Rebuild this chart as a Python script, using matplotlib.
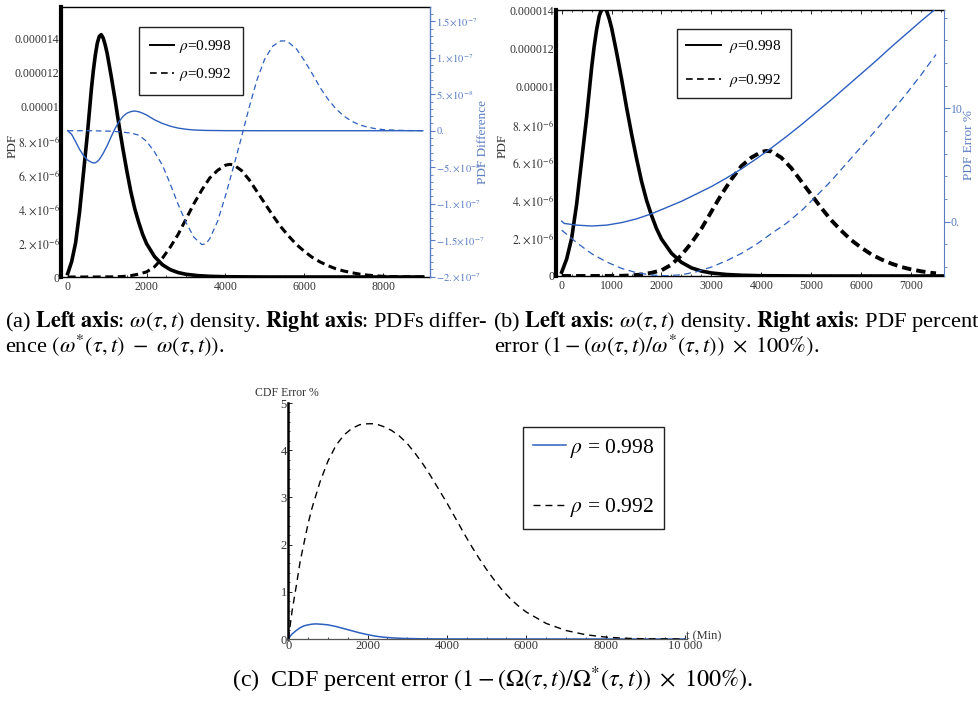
import numpy as np
import matplotlib
matplotlib.use("Agg")
import matplotlib.pyplot as plt
from matplotlib.ticker import FixedLocator, MultipleLocator

plt.rcParams['font.family'] = ['Liberation Serif', 'DejaVu Serif']
plt.rcParams['mathtext.fontset'] = 'stix'

# ---------------- data ----------------
# omega(tau,t) density, rho = 0.998 (units 1e-6)
t_pdf998 = [0, 100, 200, 300, 400, 500, 600, 650, 700, 750, 800, 850, 900, 950, 1000, 1100,
            1200, 1300, 1400, 1500, 1600, 1700, 1800, 1900, 2000, 2200, 2400, 2600, 2800,
            3000, 3300, 3600, 4000, 5000, 6000, 7000, 7500, 8000, 9000]
pdf998_e6 = [0.2, 0.9, 2.0, 3.8, 6.1, 8.4, 11.0, 12.1, 13.0, 13.7, 14.1, 14.2, 14.0, 13.6,
             13.1, 11.8, 10.4, 8.9, 7.5, 6.2, 5.0, 4.0, 3.2, 2.5, 1.95, 1.2, 0.72, 0.43,
             0.26, 0.16, 0.08, 0.04, 0.015, 0.0, 0.0, 0.0, 0.0, 0.0, 0.0]
# omega(tau,t) density, rho = 0.992 (units 1e-6)
t_pdf992 = [0, 400, 800, 1200, 1400, 1600, 1800, 2000, 2200, 2400, 2600, 2800, 3000, 3200,
            3400, 3600, 3800, 4000, 4100, 4200, 4400, 4600, 4800, 5000, 5200, 5400, 5600,
            5800, 6000, 6200, 6400, 6600, 6800, 7000, 7200, 7400, 7500, 7600, 7800, 8000,
            8500, 9000]
pdf992_e6 = [0.0, 0.0, 0.002, 0.01, 0.03, 0.08, 0.17, 0.3, 0.6, 1.1, 1.75, 2.5, 3.4, 4.3,
             5.1, 5.8, 6.25, 6.55, 6.6, 6.58, 6.25, 5.7, 5.0, 4.3, 3.6, 2.95, 2.4,
             1.9, 1.5, 1.15, 0.88, 0.66, 0.48, 0.35, 0.25, 0.17, 0.14, 0.11, 0.07, 0.04,
             0.01, 0.0]
# PDF difference, rho = 0.998 (units 1e-8)
t_diff998 = [0, 100, 200, 300, 400, 500, 600, 650, 700, 750, 800, 900, 1000, 1100, 1200, 1300,
             1400, 1500, 1600, 1700, 1800, 1900, 2000, 2200, 2400, 2600, 2800, 3000, 3200,
             3500, 4000, 5000, 6000, 7000, 8000, 9000]
diff998_e8 = [0.0, -0.5, -1.5, -2.55, -3.4, -4.0, -4.32, -4.42, -4.38, -4.22, -3.95, -3.1,
              -2.05, -0.85, 0.3, 1.25, 1.95, 2.4, 2.62, 2.7, 2.6, 2.4, 2.15, 1.5, 1.0, 0.62,
              0.36, 0.2, 0.1, 0.04, 0.01, 0.0, 0.0, 0.0, 0.0, 0.0]
# PDF difference, rho = 0.992 (units 1e-8)
t_diff992 = [0, 500, 1000, 1200, 1400, 1600, 1800, 2000, 2200, 2400, 2600, 2800, 3000, 3200,
             3400, 3500, 3600, 3800, 4000, 4200, 4400, 4600, 4800, 5000, 5200, 5400, 5500,
             5600, 5800, 6000, 6200, 6400, 6600, 6800, 7000, 7200, 7400, 7600, 7800, 8000,
             8500, 9000]
diff992_e8 = [0.0, 0.0, -0.05, -0.1, -0.2, -0.33, -0.6, -1.45, -2.9, -4.7, -7.3, -10.1, -12.6,
              -14.6, -15.6, -15.5, -14.8, -12.4, -8.9, -5.0, -1.0, 3.2, 7.0, 9.9, 11.6, 12.3,
              12.3, 12.1, 11.2, 9.6, 7.8, 5.9, 4.3, 3.0, 2.0, 1.3, 0.8, 0.5, 0.28, 0.15,
              0.04, 0.0]
# PDF percent error, rho = 0.998
t_err998 = [0, 50, 300, 600, 900, 1200, 1500, 1800, 2100, 2400, 2700, 3000, 3300, 3600, 3900,
            4200, 4500, 4800, 5100, 5400, 5700, 6000, 6300, 6600, 6900, 7200, 7500]
err998 = [0.05, -0.15, -0.3, -0.38, -0.3, -0.08, 0.25, 0.7, 1.25, 1.8, 2.45, 3.1, 3.85, 4.65,
          5.55, 6.5, 7.5, 8.55, 9.65, 10.75, 11.9, 13.05, 14.2, 15.4, 16.55, 17.7, 18.8]
# PDF percent error, rho = 0.992
t_err992 = [0, 300, 600, 900, 1200, 1500, 1800, 2100, 2400, 2700, 3000, 3300, 3600, 3900,
            4200, 4500, 4800, 5100, 5400, 5700, 6000, 6300, 6600, 6900, 7200, 7500]
err992 = [-0.74, -1.85, -2.82, -3.55, -4.12, -4.5, -4.7, -4.77, -4.68, -4.42, -4.0, -3.45,
          -2.8, -2.0, -1.05, -0.15, 0.95, 2.25, 3.6, 5.1, 6.6, 8.1, 9.65, 11.25, 12.95, 14.75]
# CDF percent error
t_cdf998 = [0, 50, 100, 200, 300, 400, 500, 600, 700, 800, 1000, 1200, 1400, 1600, 1800, 2000,
            2200, 2400, 2600, 2800, 3000, 3500, 4000, 6000, 10000]
cdf998 = [0.0, 0.06, 0.11, 0.18, 0.24, 0.28, 0.30, 0.315, 0.32, 0.315, 0.3, 0.265, 0.22, 0.175,
          0.13, 0.092, 0.06, 0.038, 0.025, 0.016, 0.01, 0.003, 0.001, 0.0, 0.0]
t_cdf992 = [0, 100, 200, 300, 400, 500, 600, 800, 1000, 1200, 1400, 1600, 1800, 2000, 2200,
            2400, 2600, 2800, 3000, 3200, 3400, 3600, 3800, 4000, 4200, 4400, 4600, 4800,
            5000, 5200, 5400, 5600, 5800, 6000, 6500, 7000, 7500, 8000, 8500, 9000, 10000]
cdf992 = [0.0, 0.62, 1.12, 1.65, 2.05, 2.45, 2.78, 3.33, 3.77, 4.1, 4.32, 4.46, 4.54, 4.56,
          4.56, 4.5, 4.42, 4.3, 4.14, 3.93, 3.7, 3.44, 3.16, 2.88, 2.58, 2.28, 1.99, 1.72,
          1.47, 1.24, 1.03, 0.85, 0.7, 0.57, 0.33, 0.18, 0.09, 0.04, 0.015, 0.005, 0.0]

labels_rho = ["0.998", "0.992"]
pdf_ticks = [0, 2e-6, 4e-6, 6e-6, 8e-6, 1e-5, 1.2e-5, 1.4e-5]
pdf_ticklabels = ["0", r"$2.\!\times\!10^{-6}$", r"$4.\!\times\!10^{-6}$", r"$6.\!\times\!10^{-6}$",
                  r"$8.\!\times\!10^{-6}$", "0.00001", "0.000012", "0.000014"]
diff_ticks = [-2e-7, -1.5e-7, -1e-7, -5e-8, 0, 5e-8, 1e-7, 1.5e-7]
diff_ticklabels = [r"$-2.\!\times\!10^{-7}$", r"$-1.5\!\times\!10^{-7}$", r"$-1.\!\times\!10^{-7}$",
                   r"$-5.\!\times\!10^{-8}$", "0.", r"$5.\!\times\!10^{-8}$",
                   r"$1.\!\times\!10^{-7}$", r"$1.5\!\times\!10^{-7}$"]

# ---------------- figure ----------------
W, H = 979, 707
fig = plt.figure(figsize=(W / 100, H / 100), dpi=100)
BLUE = '#2d5fbf'
AXBLUE = '#5a7cc2'
TXT = '#333333'
TS = 8.5


def axes_px(x0, x1, y0, y1):
    return fig.add_axes([x0 / W, 1 - y1 / H, (x1 - x0) / W, (y1 - y0) / H])


def style_left(ax):
    ax.spines['left'].set_linewidth(3.0)
    ax.spines['left'].set_color('k')
    for s in ['top', 'bottom']:
        ax.spines[s].set_linewidth(1.0)
        ax.spines[s].set_color('k')
    ax.spines['right'].set_visible(False)
    ax.tick_params(axis='y', which='both', length=0, pad=1, labelsize=TS, labelcolor=TXT)
    ax.tick_params(axis='x', which='major', direction='in', length=3, pad=3,
                   labelsize=TS, labelcolor=TXT, width=0.6)
    ax.tick_params(axis='x', which='minor', direction='in', length=1.5, width=0.5)


def legend_handles():
    return [plt.Line2D([], [], color='k', lw=1.4),
            plt.Line2D([], [], color='k', lw=1.2, ls=(0, (4, 2.6)))]


# ---- panel (a) ----
axa = axes_px(61, 430, 7, 277)
axa.plot(t_pdf998, np.array(pdf998_e6) * 1e-6, color='k', lw=2.6, zorder=3)
axa.plot(t_pdf992, np.array(pdf992_e6) * 1e-6, color='k', lw=2.2, ls=(0, (2.6, 1.5)), zorder=3)
axa.set_xlim(-170, 9184)
axa.set_ylim(0, 1.582e-5)
axa.yaxis.set_major_locator(FixedLocator(pdf_ticks))
axa.set_yticklabels(pdf_ticklabels)
axa.xaxis.set_major_locator(MultipleLocator(2000))
axa.xaxis.set_minor_locator(MultipleLocator(500))
style_left(axa)
axa.tick_params(axis='x', top=False)

axa2 = axa.twinx()
axa2.plot(t_diff998, np.array(diff998_e8) * 1e-8, color=BLUE, lw=1.0)
axa2.plot(t_diff992, np.array(diff992_e8) * 1e-8, color=BLUE, lw=0.9, ls=(0, (4.5, 3.0)))
axa2.set_ylim(-2.004e-7, 1.695e-7)
axa2.yaxis.set_major_locator(FixedLocator(diff_ticks))
axa2.yaxis.set_minor_locator(MultipleLocator(1e-8))
axa2.set_yticklabels(diff_ticklabels)
for s in ['left', 'top', 'bottom']:
    axa2.spines[s].set_visible(False)
axa2.spines['right'].set_color(AXBLUE)
axa2.spines['right'].set_linewidth(1.0)
axa2.tick_params(axis='y', which='major', direction='out', length=3.5, width=0.8,
                 color=AXBLUE, labelcolor=AXBLUE, labelsize=7.6, pad=1)
axa2.tick_params(axis='y', which='minor', direction='out', length=1.8, width=0.6, color=AXBLUE)
leg = axa2.legend(legend_handles(),
                  [r"$\rho$=" + labels_rho[0], r"$\rho$=" + labels_rho[1]],
                  loc='upper left', bbox_to_anchor=(0.211, 0.926), borderaxespad=0,
                  fontsize=11, handlelength=1.55, handletextpad=0.35, labelspacing=0.7,
                  borderpad=0.75, fancybox=False, framealpha=1, edgecolor='#222222')
leg.get_frame().set_linewidth(1.0)
fig.text(13 / W, 1 - 146 / H, "PDF", rotation=90, ha='center', va='center', fontsize=9.5,
         color=TXT)
fig.text(483 / W, 1 - 142 / H, "PDF Difference", rotation=90, ha='center', va='center',
         fontsize=9.5, color=AXBLUE)

# ---- panel (b) ----
axb = axes_px(555.7, 944, 10, 276)
axb.plot(t_pdf998, np.array(pdf998_e6) * 1e-6, color='k', lw=2.6, zorder=3)
m = np.array(t_pdf992) <= 7500
axb.plot(np.array(t_pdf992)[m], (np.array(pdf992_e6) * 1e-6)[m], color='k', lw=2.8,
         ls=(0, (2.4, 1.3)), zorder=3)
axb.set_xlim(-120, 7661)
axb.set_ylim(0, 1.404e-5)
axb.yaxis.set_major_locator(FixedLocator(pdf_ticks))
axb.set_yticklabels(pdf_ticklabels)
axb.xaxis.set_major_locator(MultipleLocator(1000))
axb.xaxis.set_minor_locator(MultipleLocator(200))
style_left(axb)
axb.tick_params(axis='x', which='both', top=True)

axb2 = axb.twinx()
axb2.plot(t_err998, err998, color=BLUE, lw=1.0)
axb2.plot(t_err992, err992, color=BLUE, lw=0.9, ls=(0, (5.5, 3.5)))
axb2.set_ylim(-4.79, 18.68)
axb2.yaxis.set_major_locator(FixedLocator([0, 10]))
axb2.yaxis.set_minor_locator(MultipleLocator(2))
axb2.set_yticklabels(["0.", "10."])
for s in ['left', 'top', 'bottom']:
    axb2.spines[s].set_visible(False)
axb2.spines['right'].set_color(AXBLUE)
axb2.tick_params(axis='y', which='major', direction='out', length=4, width=0.8,
                 color=AXBLUE, labelcolor=AXBLUE, labelsize=TS, pad=1)
axb2.tick_params(axis='y', which='minor', direction='out', length=2, width=0.6, color=AXBLUE)
leg = axb2.legend(legend_handles(),
                  [r"$\rho$=" + labels_rho[0], r"$\rho$=" + labels_rho[1]],
                  loc='upper left', bbox_to_anchor=(0.312, 0.929), borderaxespad=0,
                  fontsize=11, handlelength=2.3, handletextpad=0.5, labelspacing=1.1,
                  borderpad=0.6, fancybox=False, framealpha=1, edgecolor='#222222')
leg.get_frame().set_linewidth(1.0)
fig.text(503 / W, 1 - 146 / H, "PDF", rotation=90, ha='center', va='center', fontsize=9.5,
         color=TXT)
fig.text(969 / W, 1 - 145 / H, "PDF Error %", rotation=90, ha='center', va='center',
         fontsize=9.5, color=AXBLUE)

# ---- panel (c) ----
axc = axes_px(288.3, 687, 403, 639)
axc.plot(t_cdf998, cdf998, color=BLUE, lw=1.1, label=r"$\rho$ = " + labels_rho[0])
axc.plot(t_cdf992, cdf992, color='k', lw=1.0, ls=(0, (5, 3.6)), label=r"$\rho$ = " + labels_rho[1])
axc.set_xlim(0, 10050)
axc.set_ylim(0, 5.0)
for s in ['top', 'right']:
    axc.spines[s].set_visible(False)
axc.spines['left'].set_linewidth(1.8)
axc.spines['left'].set_color('k')
axc.spines['bottom'].set_linewidth(0.9)
axc.spines['bottom'].set_color('#555555')
axc.xaxis.set_major_locator(FixedLocator([0, 2000, 4000, 6000, 8000, 10000]))
axc.set_xticklabels(["0", "2000", "4000", "6000", "8000", "10 000"])
axc.xaxis.set_minor_locator(MultipleLocator(500))
axc.yaxis.set_major_locator(MultipleLocator(1))
axc.yaxis.set_minor_locator(MultipleLocator(0.2))
axc.tick_params(axis='both', which='major', direction='in', length=3, width=0.6,
                labelsize=9, labelcolor=TXT, pad=1)
axc.tick_params(axis='both', which='minor', direction='in', length=1.5, width=0.5)
leg = axc.legend(loc='upper left', bbox_to_anchor=(0.589, 0.898), borderaxespad=0,
                 fontsize=15.5, handlelength=1.55, handletextpad=0.2, labelspacing=1.7,
                 borderpad=0.45, fancybox=False, framealpha=1, edgecolor='#222222')
leg.get_frame().set_linewidth(1.0)
fig.text(287 / W, 1 - 393 / H, "CDF Error %", ha='center', va='center', fontsize=8.5, color=TXT)
fig.text(686 / W, 1 - 636 / H, "t (Min)", ha='left', va='center', fontsize=9, color=TXT)

# ---------------- captions ----------------
renderer = fig.canvas.get_renderer()


def fit_text(s, x0, x1, ybase, guess=12):
    t = fig.text(x0 / W, 1 - ybase / H, s, fontsize=guess, va='baseline', ha='left', color='k')
    bb = t.get_window_extent(renderer=renderer)
    t.set_fontsize(guess * (x1 - x0) / bb.width)
    return t


cap_a1 = fit_text(r"(a) $\mathbf{Left\ axis}$: $\omega(\tau,t)$ density. $\mathbf{Right\ axis}$: PDFs differ-",
                  5, 488, 327)
fs = cap_a1.get_fontsize()
fig.text(5 / W, 1 - 352 / H, r"ence $(\omega^{*}(\tau,t)\ -\ \omega(\tau,t))$.", fontsize=fs,
         va='baseline', ha='left')
fit_text(r"(b) $\mathbf{Left\ axis}$: $\omega(\tau,t)$ density. $\mathbf{Right\ axis}$: PDF percent",
         493, 978, 327)
fig.text(494 / W, 1 - 352 / H, r"error $(1-(\omega(\tau,t)/\omega^{*}(\tau,t))\ \times\ 100\%)$.",
         fontsize=fs, va='baseline', ha='left')
fit_text(r"(c)  CDF percent error $(1-(\Omega(\tau,t)/\Omega^{*}(\tau,t))\ \times\ 100\%)$.",
         232, 753, 687)

fig.savefig("out.png", dpi=100)
